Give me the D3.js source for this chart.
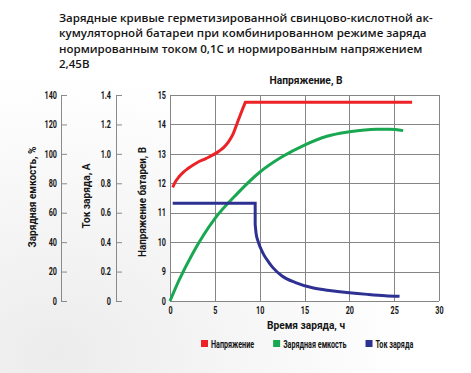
<!DOCTYPE html>
<html>
<head>
<meta charset="utf-8">
<script src="https://cdn.jsdelivr.net/npm/d3@7"></script>
<style>
  body { margin: 0; background: #fff; }
  svg { display: block; }
  text { font-family: Roboto, "DejaVu Sans", sans-serif; font-weight: bold; fill: #151515; }
  .title { font-family: "Open Sans", sans-serif; font-weight: 600; }
</style>
</head>
<body>
<svg id="chart" width="471" height="373"></svg>
<script>
const titleLines = [
  "Зарядные кривые герметизированной свинцово-кислотной ак-",
  "кумуляторной батареи при комбинированном режиме заряда",
  "нормированным током 0,1С и нормированным напряжением",
  "2,45В"
];

const timeTicks = [0, 5, 10, 15, 20, 25, 30];
const voltTicks = [8, 9, 10, 11, 12, 13, 14, 15];
const voltTickLabels = ["0", "9", "10", "11", "12", "13", "14", "15"];
const capTicks = [0, 20, 40, 60, 80, 100, 120, 140];
const curTicks = [0, 0.2, 0.4, 0.6, 0.8, 1.0, 1.2, 1.4];
const curTickLabels = ["0", "0.2", "0.4", "0.6", "0.8", "1.0", "1.2", "1.4"];

// voltage, V
const voltTime = [0.3, 0.6, 1, 1.5, 2, 3, 4, 5, 5.5, 6, 6.5, 7, 7.5, 8, 8.4, 27];
const voltValues = [11.86, 12.05, 12.22, 12.38, 12.5, 12.7, 12.84, 13.0, 13.1, 13.22, 13.4, 13.65, 14.05, 14.45, 14.75, 14.75];

// charged capacity, %
const capTime = [0, 1, 2.5, 5, 7.5, 10, 12.5, 15, 17.5, 20, 23, 24.5, 26];
const capValues = [0, 14, 32, 56, 73, 87.5, 98, 106, 112, 115, 116.8, 116.8, 115.8];

// charge current, A
const curTime = [0.3, 9.5, 9.5, 9.6, 9.8, 10.1, 10.5, 11, 11.5, 12.5, 14, 16, 18, 20, 22, 24, 25.6];
const curValues = [0.664, 0.664, 0.52, 0.46, 0.41, 0.36, 0.31, 0.265, 0.225, 0.17, 0.125, 0.088, 0.07, 0.056, 0.045, 0.036, 0.032];

const legendNames = ["Напряжение", "Зарядная емкость", "Ток заряда"];
const colors = ["#ec2227", "#19a751", "#2e3192"];

const svg = d3.select("#chart");

// squeeze text horizontally to look like a condensed face
const condense = (sel, k) => sel.each(function () {
  const w = this.getComputedTextLength();
  d3.select(this).attr("textLength", w * k).attr("lengthAdjust", "spacingAndGlyphs");
});
const fitTo = (sel, w) => sel.attr("textLength", w).attr("lengthAdjust", "spacingAndGlyphs");

// soft grey shading in the lower left corner
const defs = svg.append("defs");
const grad = defs.append("radialGradient").attr("id", "bg")
  .attr("cx", 0.12).attr("cy", 0.95).attr("r", 0.75);
grad.append("stop").attr("offset", "0%").attr("stop-color", "#ececec");
grad.append("stop").attr("offset", "100%").attr("stop-color", "#ffffff");
svg.append("rect").attr("width", 471).attr("height", 373).attr("fill", "url(#bg)");

// title
const tl = svg.append("g").selectAll("text").data(titleLines).join("text")
  .attr("class", "title")
  .attr("x", 59)
  .attr("y", (d, i) => 22 + i * 15.4)
  .style("font-size", "13px")
  .text(d => d);
const w0 = tl.node().getComputedTextLength();
tl.style("font-size", `${(13 * 374 / w0).toFixed(2)}px`);

const plotL = 170, plotR = 439, plotT = 95, plotB = 301;
const x = d3.scaleLinear().domain([0, 30]).range([plotL, plotR]);
const yV = d3.scaleLinear().domain([8, 15]).range([plotB, plotT]);
const yC = d3.scaleLinear().domain([0, 140]).range([plotB, plotT]);
const yI = d3.scaleLinear().domain([0, 1.4]).range([plotB, plotT]);

svg.append("rect")
  .attr("x", plotL).attr("y", plotT)
  .attr("width", plotR - plotL).attr("height", plotB - plotT)
  .attr("fill", "#fff");

// grid
const grid = svg.append("g").attr("stroke", "#858585").attr("stroke-width", 1);
grid.selectAll(".h").data(voltTicks).join("line").attr("class", "h")
  .attr("x1", plotL).attr("x2", plotR)
  .attr("y1", d => Math.round(yV(d)) + 0.5).attr("y2", d => Math.round(yV(d)) + 0.5);
grid.selectAll(".v").data(timeTicks).join("line").attr("class", "v")
  .attr("y1", plotT).attr("y2", plotB)
  .attr("x1", d => Math.round(x(d)) + 0.5).attr("x2", d => Math.round(x(d)) + 0.5);

// axes
const xAxis = d3.axisBottom(x).tickValues(timeTicks).tickSize(0).tickPadding(6);
svg.append("g").attr("transform", `translate(0,${plotB})`).call(xAxis)
  .call(g => g.select(".domain").remove());

const vAxis = d3.axisLeft(yV).tickValues(voltTicks).tickSize(0).tickPadding(4)
  .tickFormat((d, i) => voltTickLabels[i]);
svg.append("g").attr("transform", `translate(${plotL},0)`).call(vAxis)
  .call(g => g.select(".domain").remove());

const cAxis = d3.axisLeft(yC).tickValues(capTicks).tickSizeInner(-6).tickSizeOuter(0).tickPadding(4);
svg.append("g").attr("transform", "translate(61,0)").call(cAxis);

const iAxis = d3.axisLeft(yI).tickValues(curTicks).tickSizeInner(-6).tickSizeOuter(0).tickPadding(5)
  .tickFormat((d, i) => curTickLabels[i]);
svg.append("g").attr("transform", "translate(116,0)").call(iAxis);

svg.selectAll(".tick text").style("font-size", "10px").attr("fill", "#151515")
  .call(condense, 0.72);
svg.selectAll(".tick line, .domain").attr("stroke", "#8a8a8a");

// axis titles
const axisTitles = [
  { text: "Зарядная емкость, %", x: 36, y: 197, w: 101 },
  { text: "Ток заряда, А", x: 90, y: 196, w: 65 },
  { text: "Напряжение батареи, В", x: 146, y: 202, w: 110 }
];
svg.selectAll(".atitle").data(axisTitles).join("text").attr("class", "atitle")
  .attr("text-anchor", "middle")
  .attr("transform", d => `translate(${d.x},${d.y}) rotate(-90)`)
  .style("font-size", "11px")
  .attr("textLength", d => d.w).attr("lengthAdjust", "spacingAndGlyphs")
  .text(d => d.text);

svg.append("text").attr("x", 306).attr("y", 84).attr("text-anchor", "middle")
  .style("font-size", "11.5px").text("Напряжение, В").call(fitTo, 73);
svg.append("text").attr("x", 306).attr("y", 329).attr("text-anchor", "middle")
  .style("font-size", "11.5px").text("Время заряда, ч").call(fitTo, 78);

// curves: linear head, smooth middle, linear tail
function seriesPath(ts, vs, y, linHead, linTail) {
  const pts = ts.map((t, i) => [x(t), y(vs[i])]);
  const a = linHead, b = pts.length - 1 - linTail;
  let p = "";
  if (a > 0) p += d3.line()(pts.slice(0, a + 1));
  const mid = d3.line().curve(d3.curveMonotoneX)(pts.slice(a, b + 1));
  p += a > 0 ? mid.replace(/^M/, "L") : mid;
  if (linTail > 0) p += d3.line()(pts.slice(b)).replace(/^M/, "L");
  return p;
}

const lines = svg.append("g").attr("fill", "none").attr("stroke-width", 3);
lines.append("path").attr("stroke", colors[1])
  .attr("d", seriesPath(capTime, capValues, yC, 0, 0));
lines.append("path").attr("stroke", colors[0])
  .attr("d", seriesPath(voltTime, voltValues, yV, 0, 1));
lines.append("path").attr("stroke", colors[2])
  .attr("d", seriesPath(curTime, curValues, yI, 2, 0));

// legend
const legend = svg.append("g");
let lx = 201;
legendNames.forEach((name, i) => {
  legend.append("rect").attr("x", lx).attr("y", 340).attr("width", 7).attr("height", 7)
    .attr("fill", colors[i]);
  const t = legend.append("text").attr("x", lx + 10).attr("y", 347.5)
    .style("font-size", "10px").text(name).call(condense, 0.72);
  lx += 10 + +t.attr("textLength") + 19;
});
</script>
</body>
</html>
